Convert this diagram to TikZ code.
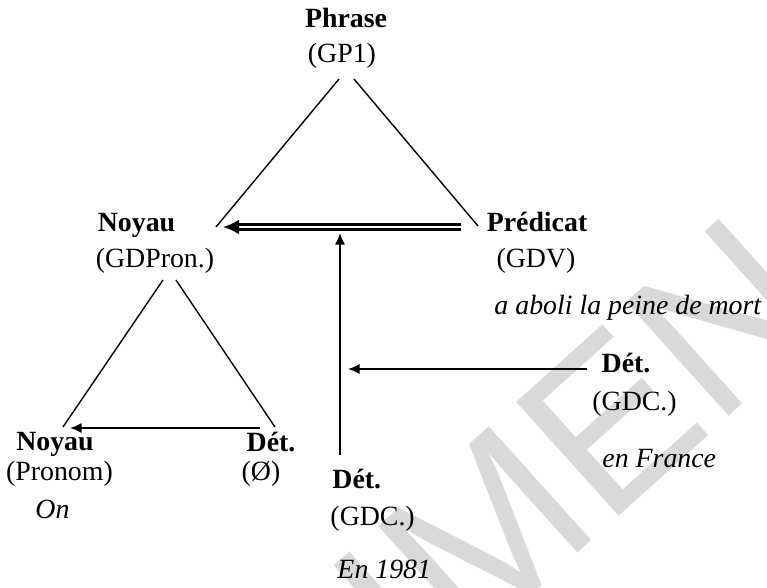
\documentclass[tikz,border=0pt]{standalone}
\usepackage{fontspec}
\setmainfont{Liberation Serif}
\newfontfamily\markfont{Liberation Sans}
\usepackage{tikz}
\usetikzlibrary{arrows.meta}
\tikzset{
  catnode/.style={font=\fontsize{12}{14}\selectfont\bfseries,inner sep=0pt,anchor=base},
  grpnode/.style={font=\fontsize{12}{14}\selectfont,inner sep=0pt,anchor=base},
  exnode/.style={font=\fontsize{12}{14}\selectfont\itshape,inner sep=0pt,anchor=base west},
  treeline/.style={line width=0.6pt},
  detarrow/.style={line width=0.9pt,-{Latex[length=5pt,width=4.5pt]}},
  predarrow/.style={line width=1pt,double distance=1.2pt,-{Latex[length=7pt,width=6.5pt]}},
  markstyle/.style={font=\fontsize{96}{96}\selectfont\markfont,text=black!15,rotate=42,inner sep=0pt},
}
\begin{document}
\begin{tikzpicture}
  \useasboundingbox (0,0) rectangle (11.62,-8.893);
  % watermark
  \begin{scope}
    \clip (0,0) rectangle (11.62,-8.893);
    \node[markstyle] (mark) at (5.33,-9.90) {SPECIMEN};
  \end{scope}
  % top level
  \node[catnode] (phrase) at (5.242,-0.409) {Phrase};
  \node[grpnode] (gp1) at (5.181,-0.954) {(GP1)};
  \node[catnode] (noyau) at (2.068,-3.500) {Noyau};
  \node[grpnode] (gdpron) at (2.348,-4.060) {(GDPron.)};
  \node[catnode] (predicat) at (8.136,-3.500) {Prédicat};
  \node[grpnode] (gdv) at (8.120,-4.045) {(GDV)};
  \node[exnode] (mort) at (7.484,-4.772) {a aboli la peine de mort};
  % complements
  \node[catnode] (detfr) at (9.484,-5.636) {Dét.};
  \node[grpnode] (gdcfr) at (9.613,-6.212) {(GDC.)};
  \node[exnode] (france) at (9.120,-7.075) {en France};
  \node[catnode,anchor=base west] (detan) at (5.030,-7.393) {Dét.};
  \node[grpnode,anchor=base west] (gdcan) at (5.000,-7.954) {(GDC.)};
  \node[exnode] (annee) at (5.106,-8.757) {En 1981};
  % subject group
  \node[catnode] (noyaupr) at (0.833,-6.818) {Noyau};
  \node[grpnode] (pronom) at (0.901,-7.272) {(Pronom)};
  \node[catnode] (detvide) at (4.106,-6.833) {Dét.};
  \node[grpnode] (vide) at (3.954,-7.272) {(Ø)};
  \node[exnode] (on) at (0.530,-7.848) {On};
  % triangle ends
  \coordinate (gpl) at (5.136,-1.197);
  \coordinate (gpr) at (5.363,-1.197);
  \coordinate (nyt) at (3.272,-3.439);
  \coordinate (prt) at (7.242,-3.424);
  \coordinate (dbs) at (6.984,-3.439);
  \coordinate (dbe) at (3.378,-3.439);
  \coordinate (vtop) at (5.151,-3.530);
  \coordinate (vbot) at (5.151,-6.893);
  \coordinate (hfr) at (8.893,-5.590);
  \coordinate (hto) at (5.272,-5.590);
  \coordinate (gdl) at (2.469,-4.242);
  \coordinate (gdr) at (2.666,-4.242);
  \coordinate (npl) at (0.954,-6.469);
  \coordinate (dvr) at (4.166,-6.469);
  \coordinate (ars) at (3.939,-6.484);
  \coordinate (are) at (1.061,-6.484);
  \draw[treeline] (gpl) -- (nyt);
  \draw[treeline] (gpr) -- (prt);
  \draw[predarrow] (dbs) -- (dbe);
  \draw[detarrow] (vbot) -- (vtop);
  \draw[detarrow] (hfr) -- (hto);
  \draw[treeline] (gdl) -- (npl);
  \draw[treeline] (gdr) -- (dvr);
  \draw[detarrow] (ars) -- (are);
\end{tikzpicture}
\end{document}
